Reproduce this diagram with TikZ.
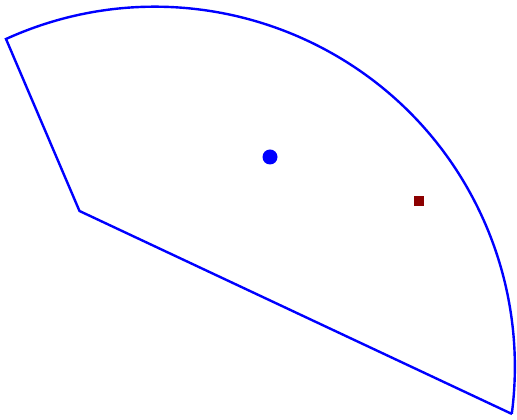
\documentclass[tikz,border=0pt]{standalone}
\begin{document}
\begin{tikzpicture}[x=1pt,y=1pt,
  edge/.style={draw=blue,line width=2.4pt,line join=miter},
  dot/.style={circle,fill=blue,inner sep=0pt,minimum size=15pt},
  sq/.style={rectangle,fill=red!55!black,inner sep=0pt,minimum size=10pt}]
\useasboundingbox (0,0) rectangle (517,420);
\coordinate (A) at (6,381);
\coordinate (C) at (79.5,209);
\coordinate (B) at (512,6);
\draw[edge] (B) -- (C) -- (A) arc[start angle=114.43,end angle=-7.5,radius=360];
\node[dot] (p) at (270,263) {};
\node[sq] (q) at (419,219) {};
\end{tikzpicture}
\end{document}
